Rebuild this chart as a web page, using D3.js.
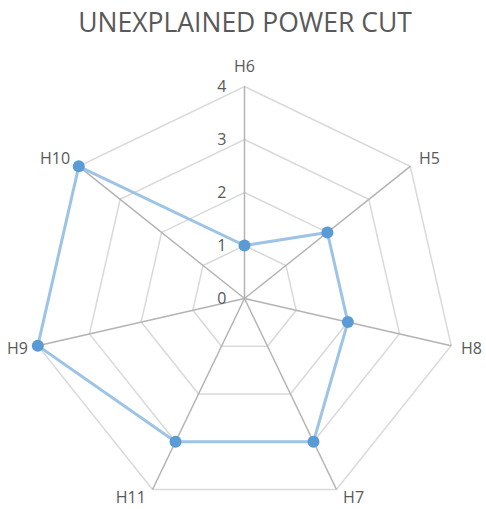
<!DOCTYPE html>
<html>
<head>
<meta charset="utf-8">
<script src="https://cdn.jsdelivr.net/npm/d3@7"></script>
<style>
  html, body { margin: 0; padding: 0; background: #fff; }
  svg { display: block; font-family: "Open Sans", "Noto Sans", "Liberation Sans", sans-serif; }
</style>
</head>
<body>
<svg id="chart" width="486" height="509"></svg>
<script>
// Hours around the radar, clockwise from the top
const categories = ["H6", "H5", "H8", "H7", "H11", "H9", "H10"];
// Number of unexplained power cuts per hour
const values = [1, 2, 2, 3, 3, 4, 4];
// Radial tick labels
const ticks = [0, 1, 2, 3, 4];

const svg = d3.select("#chart");
const cx = 244.5, cy = 298.5, R = 212;

const r = d3.scaleLinear().domain([0, 4]).range([0, R]);
const angle = d3.scalePoint().domain(categories)
  .range([0, 2 * Math.PI * (categories.length - 1) / categories.length]);

const pt = (cat, v) => {
  const a = angle(cat);
  return [cx + r(v) * Math.sin(a), cy - r(v) * Math.cos(a)];
};

svg.append("text")
  .attr("x", 245).attr("y", 32)
  .attr("text-anchor", "middle")
  .attr("font-size", 26.5)
  .attr("fill", "#595959")
  .text("UNEXPLAINED POWER CUT");

// Ring gridlines
const g = svg.append("g");
ticks.filter(t => t > 0).forEach(t => {
  g.append("polygon")
    .attr("points", categories.map(c => pt(c, t).join(",")).join(" "))
    .attr("fill", "none")
    .attr("stroke", "#d9d9d9")
    .attr("stroke-width", 1.5);
});

// Spokes
categories.forEach(c => {
  const [x, y] = pt(c, 4);
  g.append("line")
    .attr("x1", cx).attr("y1", cy).attr("x2", x).attr("y2", y)
    .attr("stroke", "#b3b3b3")
    .attr("stroke-width", 1.5);
});

// Radial tick labels
ticks.forEach(t => {
  svg.append("text")
    .attr("x", cx - 18).attr("y", cy - r(t))
    .attr("dy", "0.35em")
    .attr("text-anchor", "end")
    .attr("font-size", 16)
    .attr("fill", "#595959")
    .text(t);
});

// Category labels
categories.forEach(c => {
  const a = angle(c);
  const [vx, vy] = pt(c, 4);
  const s = Math.sin(a), co = Math.cos(a);
  let x, y, anchor;
  if (Math.abs(s) < 0.1) {
    x = vx; y = vy - 20; anchor = "middle";
  } else {
    x = vx + Math.sign(s) * (4 + 6 * Math.abs(s));
    y = vy - (co < -0.5 ? 9 : 12) * co;
    anchor = s > 0 ? "start" : "end";
  }
  svg.append("text")
    .attr("x", x).attr("y", y)
    .attr("dy", "0.35em")
    .attr("text-anchor", anchor)
    .attr("font-size", 16)
    .attr("fill", "#595959")
    .text(c);
});

// Series line
const line = d3.line().curve(d3.curveLinearClosed);
svg.append("path")
  .attr("d", line(categories.map((c, i) => pt(c, values[i]))))
  .attr("fill", "none")
  .attr("stroke", "#9dc3e6")
  .attr("stroke-width", 3);

svg.selectAll("circle.pt")
  .data(categories.map((c, i) => pt(c, values[i])))
  .join("circle")
  .attr("class", "pt")
  .attr("cx", d => d[0]).attr("cy", d => d[1])
  .attr("r", 6)
  .attr("fill", "#5b9bd5");
</script>
</body>
</html>
